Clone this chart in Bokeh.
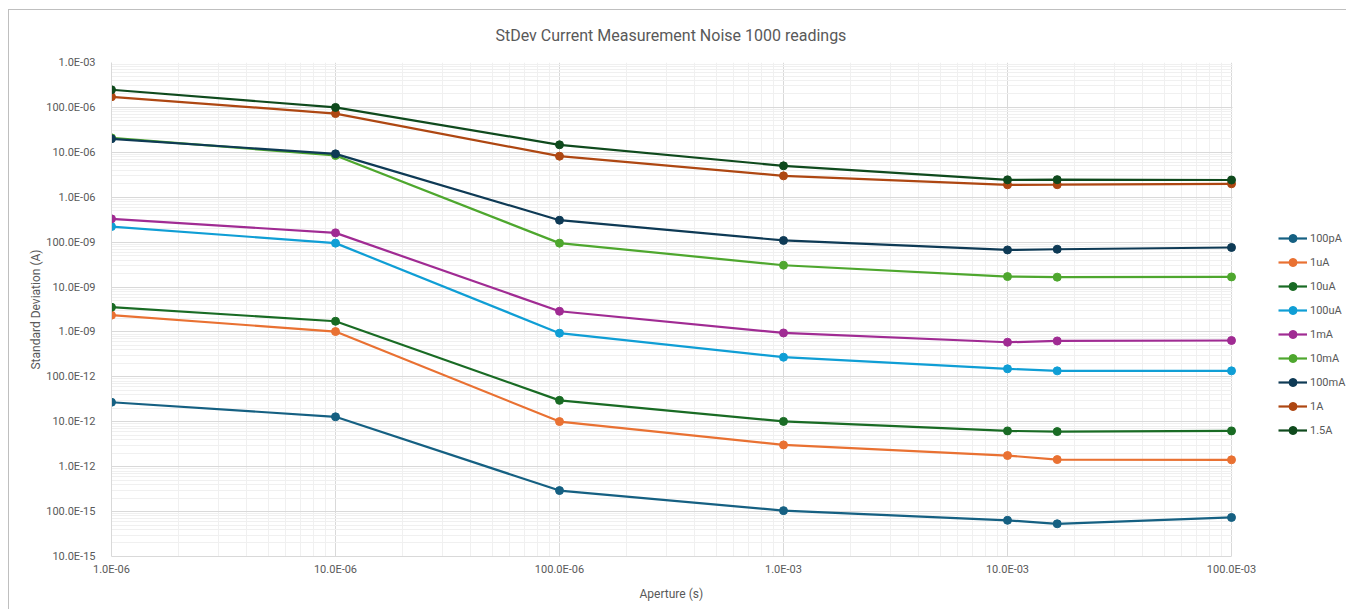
from bokeh.plotting import figure
from bokeh.models import FixedTicker, CustomJSTickFormatter, Legend, Range1d, BoxAnnotation, Title
from bokeh.embed import file_html
from bokeh.resources import INLINE

# ---------------- data ----------------
aperture_s = [1e-6, 10e-6, 100e-6, 1e-3, 10e-3, 16.67e-3, 100e-3]

series_names = ["100pA", "1uA", "10uA", "100uA", "1mA", "10mA", "100mA", "1A", "1.5A"]

s_100pA = [2.72e-11, 1.29e-11, 2.94e-13, 1.05e-13, 6.4e-14, 5.35e-14, 7.4e-14]
s_1uA = [2.36e-9, 1.02e-9, 1.01e-11, 3.05e-12, 1.77e-12, 1.44e-12, 1.42e-12]
s_10uA = [3.56e-9, 1.73e-9, 3.0e-11, 1.02e-11, 6.26e-12, 6.05e-12, 6.26e-12]
s_100uA = [2.22e-7, 9.5e-8, 9.4e-10, 2.74e-10, 1.51e-10, 1.36e-10, 1.36e-10]
s_1mA = [3.3e-7, 1.61e-7, 2.89e-9, 9.5e-10, 5.9e-10, 6.3e-10, 6.45e-10]
s_10mA = [2.1e-5, 8.5e-6, 9.5e-8, 3.06e-8, 1.71e-8, 1.66e-8, 1.68e-8]
s_100mA = [2.0e-5, 9.25e-6, 3.08e-7, 1.09e-7, 6.7e-8, 6.95e-8, 7.6e-8]
s_1A = [1.72e-4, 7.3e-5, 8.2e-6, 2.99e-6, 1.89e-6, 1.9e-6, 1.99e-6]
s_1p5A = [2.47e-4, 1.0e-4, 1.47e-5, 5.0e-6, 2.44e-6, 2.46e-6, 2.42e-6]

series_values = [s_100pA, s_1uA, s_10uA, s_100uA, s_1mA, s_10mA, s_100mA, s_1A, s_1p5A]
series_colors = ["#156082", "#E97132", "#196B24", "#0F9ED5", "#A02B93",
                 "#4EA72E", "#0E3A55", "#AE4712", "#0F4A1D"]

title_text = "StDev Current Measurement Noise 1000 readings"
x_label = "Aperture (s)"
y_label = "Standard Deviation (A)"

x_min, x_max = 1e-6, 100e-3
y_min, y_max = 10e-15, 1e-3

# ---------------- layout ----------------
FONT = "Roboto"
TXT = "#595959"
PX_PER_DECADE = 224.0          # plot area: 1120 px for 5 decades
LEGEND_ZONE_PX = 115           # room right of the plot area for the legend
x_view_max = x_max * 10 ** (LEGEND_ZONE_PX / PX_PER_DECADE)

p = figure(width=1338, height=600, x_axis_type="log", y_axis_type="log",
           x_range=Range1d(x_min, x_view_max), y_range=Range1d(y_min, y_max),
           output_backend="svg", toolbar_location=None,
           min_border_left=102, min_border_right=1,
           min_border_top=52, min_border_bottom=54)
p.margin = (9, 0, 0, 8)
p.styles = {"border-left": "1px solid #BFBFBF", "border-top": "1px solid #BFBFBF"}

p.title.text = title_text
p.title.align = "left"
p.title.offset = 384
p.title.vertical_align = "top"
p.title.text_font = FONT
p.title.text_font_size = "16px"
p.title.text_font_style = "normal"
p.title.text_color = TXT
p.title.standoff = 31

def decade_ticks(lo, hi):
    import math
    a, b = int(round(math.log10(lo))), int(round(math.log10(hi)))
    major = [10.0 ** k for k in range(a, b + 1)]
    minor = [m * 10.0 ** k for k in range(a, b) for m in range(2, 10)]
    return major, minor

xmaj, xmin_t = decade_ticks(x_min, x_max)
ymaj, ymin_t = decade_ticks(y_min, y_max)

fmt = CustomJSTickFormatter(code="""
    const e = Math.round(Math.log10(tick));
    const e3 = Math.floor(e / 3) * 3;
    const m = Math.pow(10, e - e3);
    const a = Math.abs(e3);
    return m.toFixed(1) + "E" + (e3 < 0 ? "-" : "+") + (a < 10 ? "0" : "") + a;
""")

p.xaxis.ticker = FixedTicker(ticks=xmaj, minor_ticks=xmin_t)
p.yaxis.ticker = FixedTicker(ticks=ymaj, minor_ticks=ymin_t)
p.xgrid.ticker = p.xaxis.ticker
p.ygrid.ticker = p.yaxis.ticker
p.xaxis.bounds = (x_min, x_max)

for ax in (p.xaxis[0], p.yaxis[0]):
    ax.formatter = fmt
    ax.major_tick_line_color = None
    ax.minor_tick_line_color = None
    ax.axis_line_color = "#D9D9D9"
    ax.major_label_text_font = FONT
    ax.major_label_text_font_size = "11px"
    ax.major_label_text_color = TXT
    ax.axis_label_text_font = FONT
    ax.axis_label_text_font_size = "12px"
    ax.axis_label_text_font_style = "normal"
    ax.axis_label_text_color = TXT

p.yaxis.axis_label = y_label
p.xaxis.major_label_standoff = 0
p.yaxis.major_label_standoff = 10
p.yaxis.axis_label_standoff = 0

# x-axis title, centred under the plot area (not under the legend zone)
p.add_layout(Title(text=x_label, align="left", offset=528, standoff=12,
                   text_font=FONT, text_font_size="12px",
                   text_font_style="normal", text_color=TXT), "below")

for g in (p.xgrid[0], p.ygrid[0]):
    g.grid_line_color = "#D9D9D9"
    g.grid_line_width = 1
    g.minor_grid_line_color = "#F0F0F0"
    g.minor_grid_line_width = 1

# blank the legend zone to the right of the plot area
p.add_layout(BoxAnnotation(left=x_max * 10 ** (1 / PX_PER_DECADE),
                           fill_color="white", fill_alpha=1.0,
                           line_color=None, level="underlay"))

p.outline_line_color = None
p.background_fill_color = "white"
p.border_fill_color = "white"

items = []
for name, vals, col in zip(series_names, series_values, series_colors):
    r1 = p.line(aperture_s, vals, line_color=col, line_width=2.2)
    r2 = p.scatter(aperture_s, vals, marker="circle", size=8,
                   fill_color=col, line_color=col)
    items.append((name, [r1, r2]))

legend = Legend(items=items, location=(1167, 116),
                glyph_width=29, glyph_height=20, label_height=20, spacing=4,
                padding=0, margin=0, label_standoff=3,
                label_text_font=FONT, label_text_font_size="11px",
                label_text_color=TXT,
                border_line_color=None, background_fill_alpha=0)
p.add_layout(legend, "center")

open("out.html", "w").write(file_html(p, INLINE))
